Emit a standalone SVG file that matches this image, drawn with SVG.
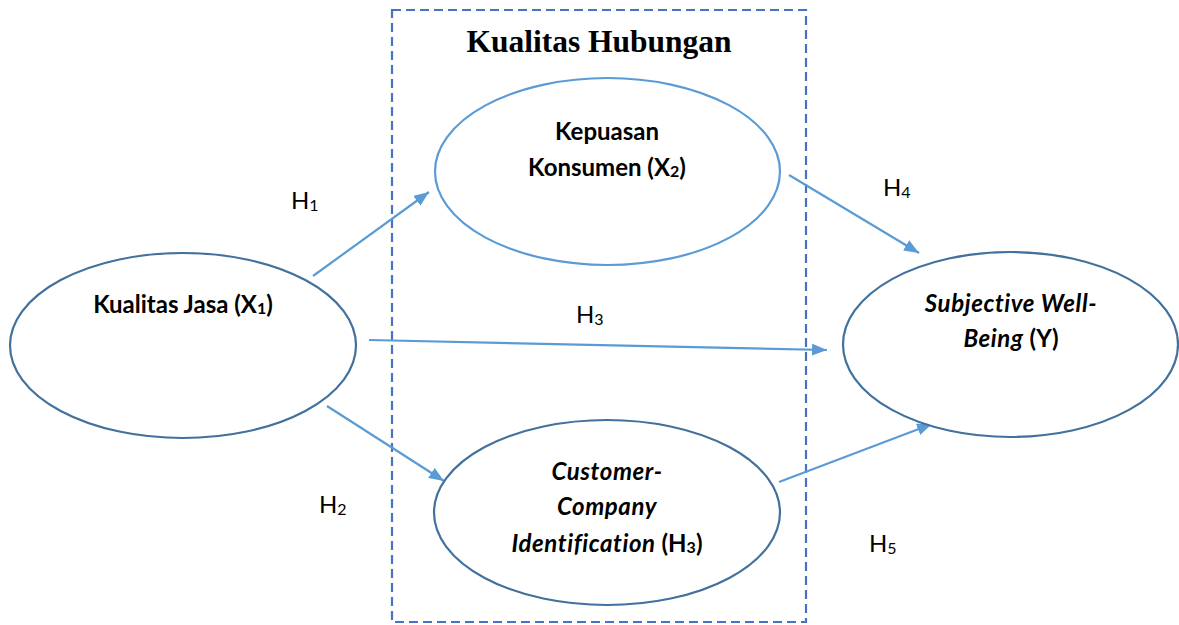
<svg xmlns="http://www.w3.org/2000/svg" width="1179" height="625" viewBox="0 0 1179 625">
<defs>
<style>
.frame{fill:none;stroke:#4472C4;stroke-width:2.2;stroke-dasharray:9 5}
.title{font-family:"Liberation Serif","Times New Roman",serif;font-weight:bold;font-size:31.5px;fill:#000}
.dk{fill:#fff;stroke:#41719C;stroke-width:2.2}
.lt{fill:#fff;stroke:#5B9BD5;stroke-width:2.2}
.nt{font-family:Lato,"Open Sans",sans-serif;font-weight:bold;font-size:24px;fill:#000;text-anchor:middle}
.it{font-style:italic;letter-spacing:0.6px}
.sub{font-size:16px}
.lbl{font-family:Lato,"Open Sans",sans-serif;font-size:24px;fill:#000}
.conn{stroke:#5B9BD5;stroke-width:2.2;fill:none}
</style>
<marker id="ah" viewBox="0 0 15 12" refX="15" refY="6" markerWidth="15" markerHeight="12" markerUnits="userSpaceOnUse" orient="auto">
<path d="M0,0 L15,6 L0,12 Z" fill="#5B9BD5"/>
</marker>
</defs>
<rect width="1179" height="625" fill="#fff"/>
<g id="frame">
<rect class="frame" x="392" y="10" width="414" height="612"/>
<text class="title" x="599" y="52" text-anchor="middle">Kualitas Hubungan</text>
</g>
<g id="connectors">
<line class="conn" x1="313" y1="276" x2="429" y2="192" marker-end="url(#ah)"/>
<line class="conn" x1="369" y1="340" x2="827" y2="350" marker-end="url(#ah)"/>
<line class="conn" x1="327" y1="406" x2="444" y2="481" marker-end="url(#ah)"/>
<line class="conn" x1="789" y1="175" x2="919" y2="253" marker-end="url(#ah)"/>
<line class="conn" x1="779" y1="482" x2="932" y2="424" marker-end="url(#ah)"/>
<text class="lbl" x="291" y="209">H<tspan class="sub" dy="2">1</tspan></text>
<text class="lbl" x="576" y="323">H<tspan class="sub" dy="2">3</tspan></text>
<text class="lbl" x="319" y="513">H<tspan class="sub" dy="2">2</tspan></text>
<text class="lbl" x="883" y="196">H<tspan class="sub" dy="2">4</tspan></text>
<text class="lbl" x="869" y="552">H<tspan class="sub" dy="2">5</tspan></text>
</g>
<g id="node-x1">
<ellipse class="dk" cx="183" cy="345.5" rx="173" ry="92.5"/>
<text class="nt" x="183" y="313">Kualitas Jasa (X<tspan class="sub" dy="1">1</tspan><tspan dy="-1">)</tspan></text>
</g>
<g id="node-x2">
<ellipse class="lt" cx="607.5" cy="171.5" rx="172.5" ry="93.5"/>
<text class="nt" x="607" y="140">Kepuasan</text>
<text class="nt" x="607" y="176">Konsumen (X<tspan class="sub" dy="1">2</tspan><tspan dy="-1">)</tspan></text>
</g>
<g id="node-y">
<ellipse class="dk" cx="1010.5" cy="344.5" rx="167.5" ry="92.5"/>
<text class="nt it" x="1011" y="312">Subjective Well-</text>
<text class="nt" x="1011" y="347"><tspan class="it">Being</tspan> (Y)</text>
</g>
<g id="node-h3">
<ellipse class="dk" cx="607" cy="512.5" rx="173" ry="92.5"/>
<text class="nt it" x="607" y="480">Customer-</text>
<text class="nt it" x="607" y="515">Company</text>
<text class="nt" x="607" y="552"><tspan class="it">Identification</tspan> (H<tspan class="sub" dy="1">3</tspan><tspan dy="-1">)</tspan></text>
</g>
</svg>
